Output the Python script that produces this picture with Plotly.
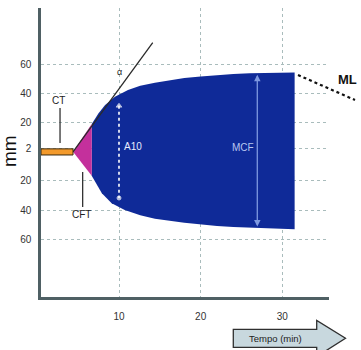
import plotly.graph_objects as go

# ---------------- data ----------------
upper_t = [6.66, 7.5, 8.3, 9.5, 11.1, 12.6, 14.4, 16.2, 18.0, 20.0, 22.0, 24.0, 26.0, 28.0, 30.0, 31.5]
upper_mm = [19.0, 26.5, 32.0, 37.8, 42.4, 45.3, 47.3, 49.2, 50.6, 51.7, 52.6, 53.3, 53.8, 54.1, 54.2, 54.3]
lower_t = [6.66, 7.9, 9.1, 10.7, 12.6, 14.4, 16.2, 18.0, 20.0, 22.0, 24.0, 26.0, 28.0, 30.0, 31.5]
lower_mm = [-16.5, -28.5, -35.3, -39.9, -43.5, -45.9, -47.3, -48.7, -49.9, -50.9, -51.6, -52.2, -52.6, -52.9, -53.1]

ct_end = 4.37          # end of clotting time (min)
cft_t = [4.37, 6.66, 6.66]
cft_mm = [0.0, 19.0, -16.5]
alpha_t = [4.37, 14.13]
alpha_mm = [0.0, 74.8]
a10_t = 10.0
a10_mm = [31.5, -31.7]
mcf_t = 26.93
mcf_mm = [52.9, -52.3]

x_ticks = [10, 20, 30]
x_labels = ["10", "20", "30"]
y_ticks = [-60, -40, -20, 2, 20, 40, 60]
y_labels = ["60", "40", "20", "2", "20", "40", "60"]

# ---------------- layout helpers ----------------
W, H = 361, 350
L, R, T, B = 41, 32, 8, 53
PW, PH = W - L - R, H - T - B


def px(x, y):
    return (x - L) / PW, (H - B - y) / PH


fig = go.Figure()

# blue body
fig.add_trace(go.Scatter(
    x=upper_t + lower_t[::-1], y=upper_mm + lower_mm[::-1],
    fill="toself", fillcolor="#0f2a98", line=dict(width=0, color="#0f2a98"),
    mode="lines", hoverinfo="skip", showlegend=False))

# magenta CFT triangle
fig.add_trace(go.Scatter(
    x=cft_t, y=cft_mm, fill="toself", fillcolor="#c4309c",
    line=dict(width=0), mode="lines", hoverinfo="skip", showlegend=False))

# alpha tangent
fig.add_trace(go.Scatter(
    x=alpha_t, y=alpha_mm, mode="lines", line=dict(color="#2a2a2a", width=1.3),
    hoverinfo="skip", showlegend=False))

# A10 dotted arrow
fig.add_trace(go.Scatter(
    x=[a10_t, a10_t], y=a10_mm, mode="lines",
    line=dict(color="white", width=1.6, dash="dot"),
    hoverinfo="skip", showlegend=False))
fig.add_trace(go.Scatter(
    x=[a10_t, a10_t], y=a10_mm, mode="markers",
    marker=dict(symbol=["triangle-up", "circle"], size=[5, 4], color="white"),
    hoverinfo="skip", showlegend=False))

# MCF arrow
fig.add_annotation(x=mcf_t, y=mcf_mm[0], ax=mcf_t, ay=mcf_mm[1], xref="x", yref="y",
                   axref="x", ayref="y", text="", showarrow=True, arrowhead=2,
                   arrowside="end+start", arrowsize=1, arrowwidth=1.3, arrowcolor="#7e98e0")

shapes = []
# orange CT bar
shapes.append(dict(type="rect", xref="x", yref="y", x0=0.45, x1=ct_end, y0=-2.2, y1=2.0,
                   fillcolor="#f39a2c", line=dict(color="#3a2a10", width=1), layer="above"))
# CT pointer
shapes.append(dict(type="line", xref="x", yref="y", x0=2.78, x1=2.78, y0=30.0, y1=6.0,
                   line=dict(color="#333", width=1.3)))
# CFT pointer
shapes.append(dict(type="line", xref="x", yref="y", x0=5.55, x1=5.55, y0=-13.9, y1=-37.9,
                   line=dict(color="#333", width=1.3)))
# ML dotted line (extends beyond plot)
x0, y0 = px(298, 75)
x1, y1 = px(355, 100)
shapes.append(dict(type="line", xref="paper", yref="paper", x0=x0, y0=y0, x1=x1, y1=y1,
                   line=dict(color="#111", width=2.2, dash="dot")))
# Tempo arrow
pts = [(233.3, 329.3), (316.7, 329.3), (316.7, 320.5), (345.5, 338.3),
       (316.7, 356.6), (316.7, 347.3), (233.3, 347.3)]
pp = [px(a, b) for a, b in pts]
path = "M " + " L ".join(f"{a:.4f},{b:.4f}" for a, b in pp) + " Z"
shapes.append(dict(type="path", xref="paper", yref="paper", path=path,
                   fillcolor="#c8d8de", line=dict(color="#2f2f2f", width=1.3)))

font = "Liberation Sans, Arial, sans-serif"
ann = []
ann.append(dict(x=2.55, y=35.0, xref="x", yref="y", text="CT", showarrow=False,
                font=dict(size=10, color="#222", family=font)))
ann.append(dict(x=5.4, y=-43.0, xref="x", yref="y", text="CFT", showarrow=False,
                font=dict(size=10, color="#222", family=font)))
ann.append(dict(x=10.1, y=55.0, xref="x", yref="y", text="α", showarrow=False,
                font=dict(size=9, color="#222", family=font)))
ann.append(dict(x=11.7, y=3.3, xref="x", yref="y", text="A10", showarrow=False,
                font=dict(size=10, color="#e8ecff", family=font)))
ann.append(dict(x=25.2, y=2.6, xref="x", yref="y", text="MCF", showarrow=False,
                font=dict(size=10, color="#b8c6f0", family=font)))
mx, my = px(347, 79)
ann.append(dict(x=mx, y=my, xref="paper", yref="paper", text="<b>ML</b>", showarrow=False,
                font=dict(size=13, color="#111", family=font)))
tx, ty = px(275, 338.5)
ann.append(dict(x=tx, y=ty, xref="paper", yref="paper", text="Tempo (min)", showarrow=False,
                font=dict(size=9.5, color="#222", family=font)))
hx, hy = px(9, 151)
ann.append(dict(x=hx, y=hy, xref="paper", yref="paper", text="mm", showarrow=False,
                textangle=-90, font=dict(size=19, color="#111", family=font)))
for a in ann:
    fig.add_annotation(xanchor="center", yanchor="middle", **a)

fig.update_layout(
    width=W, height=H, margin=dict(l=L, r=R, t=T, b=B, autoexpand=False),
    paper_bgcolor="white", plot_bgcolor="white",
    shapes=shapes, showlegend=False,
    xaxis=dict(range=[0.45, 35.71], tickvals=x_ticks, ticktext=x_labels,
               showgrid=True, gridcolor="#a9bcbc", griddash="dot", gridwidth=1.2,
               showline=True, linecolor="#4f6064", linewidth=2.5, zeroline=False,
               ticks="", ticklabelstandoff=8, automargin=False,
               tickfont=dict(size=10, color="#333", family=font), fixedrange=True),
    yaxis=dict(range=[-99.6, 98.6], tickvals=y_ticks, ticktext=y_labels,
               showgrid=True, gridcolor="#a9bcbc", griddash="dot", gridwidth=1.2,
               showline=True, linecolor="#4f6064", linewidth=2.5, zeroline=False,
               ticks="", ticklabelstandoff=5, automargin=False,
               tickfont=dict(size=10, color="#333", family=font), fixedrange=True),
)

fig.write_html("out.html")
